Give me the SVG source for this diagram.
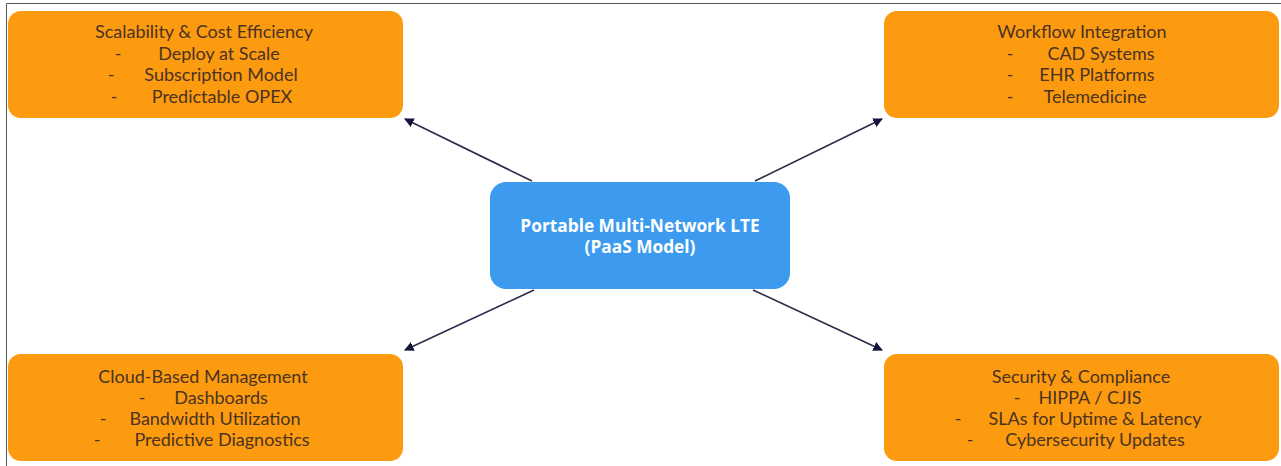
<svg xmlns="http://www.w3.org/2000/svg" width="1281" height="466" viewBox="0 0 1281 466">
<defs>
<style>
.box{fill:#FC9A10;}
.hub{fill:#3C9BEE;}
.t{font-family:Lato,"Open Sans",sans-serif;font-size:18px;fill:#4A3320;text-anchor:middle;}
.d{font-family:Lato,"Open Sans",sans-serif;font-size:18px;fill:#4A3320;text-anchor:middle;}
.h{font-family:"Open Sans","Noto Sans",sans-serif;font-size:17.3px;font-weight:bold;fill:#FFFFFF;text-anchor:middle;}
.c{stroke:#2B2B4A;stroke-width:1.6;fill:none;marker-end:url(#ah);}
.frame{stroke:#555;stroke-width:1;fill:none;}
</style>
<marker id="ah" viewBox="0 0 10 10" refX="9" refY="5" markerWidth="6" markerHeight="6" markerUnits="strokeWidth" orient="auto">
<path d="M0,0 L10,5 L0,10 z" fill="#14143C"/>
</marker>
</defs>
<rect width="1281" height="466" fill="#FFFFFF"/>
<path class="frame" d="M6.5,466 L6.5,3.5 L1281,3.5"/>
<g id="connectors">
<line class="c" x1="532" y1="181" x2="405" y2="119"/>
<line class="c" x1="755" y1="181" x2="882" y2="119"/>
<line class="c" x1="534" y1="290" x2="405" y2="350"/>
<line class="c" x1="753" y1="290" x2="882" y2="350"/>
</g>
<g id="hub">
<rect class="hub" x="490" y="182" width="300" height="107" rx="16"/>
<text class="h" x="640" y="232">Portable Multi-Network LTE</text>
<text class="h" x="640" y="253">(PaaS Model)</text>
</g>
<g id="scalability">
<rect class="box" x="8" y="11" width="395" height="107" rx="13"/>
<text class="t" x="204" y="38">Scalability &amp; Cost Efficiency</text>
<text class="d" x="118" y="60">-</text><text class="t" x="219" y="60">Deploy at Scale</text>
<text class="d" x="111" y="81">-</text><text class="t" x="221" y="81">Subscription Model</text>
<text class="d" x="114" y="103">-</text><text class="t" x="222" y="103">Predictable OPEX</text>
</g>
<g id="workflow">
<rect class="box" x="884" y="11" width="395" height="107" rx="13"/>
<text class="t" x="1082" y="38">Workflow Integration</text>
<text class="d" x="1010" y="60">-</text><text class="t" x="1101" y="60">CAD Systems</text>
<text class="d" x="1010" y="81">-</text><text class="t" x="1097" y="81">EHR Platforms</text>
<text class="d" x="1010" y="103">-</text><text class="t" x="1095" y="103">Telemedicine</text>
</g>
<g id="cloud">
<rect class="box" x="8" y="354" width="395" height="107" rx="13"/>
<text class="t" x="203" y="383">Cloud-Based Management</text>
<text class="d" x="142" y="404">-</text><text class="t" x="221" y="404">Dashboards</text>
<text class="d" x="103" y="425">-</text><text class="t" x="215" y="425">Bandwidth Utilization</text>
<text class="d" x="97" y="446">-</text><text class="t" x="222" y="446">Predictive Diagnostics</text>
</g>
<g id="security">
<rect class="box" x="884" y="354" width="395" height="107" rx="13"/>
<text class="t" x="1081" y="383">Security &amp; Compliance</text>
<text class="d" x="1017" y="404">-</text><text class="t" x="1090" y="404">HIPPA / CJIS</text>
<text class="d" x="958" y="425">-</text><text class="t" x="1095" y="425">SLAs for Uptime &amp; Latency</text>
<text class="d" x="970" y="446">-</text><text class="t" x="1095" y="446">Cybersecurity Updates</text>
</g>
</svg>
